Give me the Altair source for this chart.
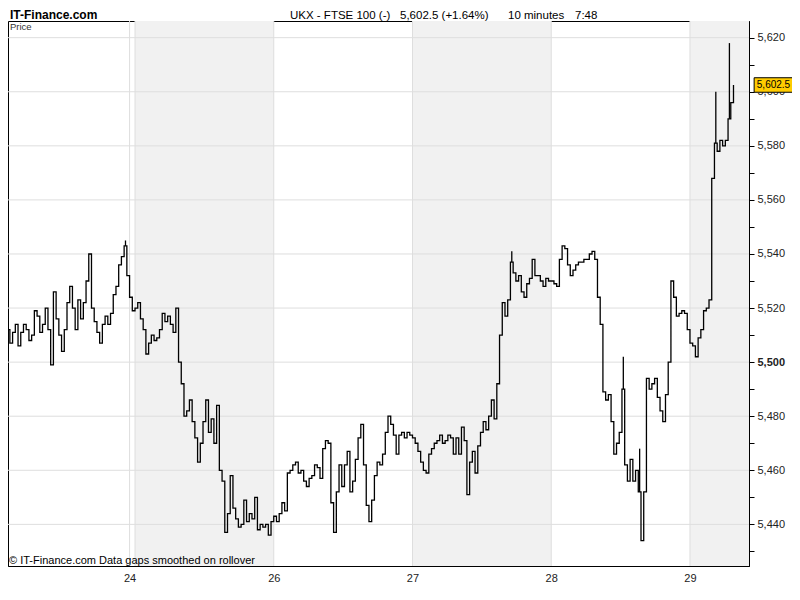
import altair as alt
import pandas as pd

# ---------------- data (10-minute closes) ----------------
day1 = [5516, 5513, 5512, 5507, 5511, 5514, 5506, 5511, 5514, 5512,
        5508, 5510, 5519, 5517, 5511, 5514, 5520, 5512, 5499, 5526,
        5516, 5510, 5504, 5512, 5522, 5528, 5520, 5512, 5523, 5516,
        5522, 5530, 5540, 5520, 5515, 5511, 5507, 5514, 5517, 5514,
        5518, 5525, 5528, 5536, 5539, 5543, 5532]
day24 = [5524, 5519]
day26 = [5520, 5522, 5516, 5512, 5503, 5507, 5510, 5508, 5509, 5512,
         5518, 5515, 5517, 5514, 5511, 5520, 5500, 5492, 5480, 5482,
         5486, 5478, 5472, 5463, 5470, 5478, 5486, 5474, 5479, 5470,
         5484, 5460, 5456, 5437, 5444, 5458, 5446, 5442, 5439, 5440,
         5449, 5441, 5444, 5442, 5450, 5438, 5440, 5439, 5440, 5436,
         5441]
day27 = [5443, 5441, 5444, 5448, 5445, 5459, 5460, 5462, 5463, 5459,
         5460, 5456, 5454, 5457, 5458, 5462, 5461, 5457, 5468, 5471,
         5470, 5448, 5437, 5452, 5462, 5454, 5462, 5467, 5452, 5456,
         5464, 5472, 5477, 5462, 5447, 5441, 5449, 5458, 5463, 5462,
         5466, 5474, 5480, 5477, 5473, 5466, 5473, 5474, 5472, 5474,
         5473]
day28 = [5472, 5470, 5467, 5463, 5460, 5459, 5466, 5468, 5470, 5471,
         5473, 5470, 5471, 5473, 5472, 5466, 5472, 5466, 5476, 5471,
         5451, 5463, 5467, 5459, 5469, 5474, 5478, 5475, 5480, 5486,
         5479, 5492, 5510, 5522, 5517, 5523, 5537, 5533, 5530, 5532,
         5526, 5524, 5529, 5531, 5538, 5532, 5532, 5530, 5528, 5531,
         5530]
day29a = [5530, 5529, 5528, 5538, 5543, 5542, 5536, 5532, 5534, 5536,
          5537, 5537, 5538, 5538, 5540, 5541, 5538, 5524, 5514, 5489,
          5486, 5488, 5478, 5466, 5470, 5474, 5490, 5462, 5456, 5464,
          5456, 5460, 5452, 5434, 5452, 5494, 5490, 5492, 5494, 5487,
          5482, 5478, 5488, 5500, 5530, 5524, 5517, 5518, 5519, 5518,
          5512]
day29b = [5507, 5506, 5502, 5509, 5512, 5519, 5520, 5523, 5568, 5581,
          5578, 5582, 5580, 5582, 5590, 5596, 5602.5]

prices = day1 + day24 + day26 + day27 + day28 + day29a + day29b

# intrabar extremes (bar index, extreme price)
spike_t = [45, 187, 228, 234, 262, 267]
spike_v = [5545, 5541, 5502, 5468, 5600, 5618]

# day structure (bar index)
band_start = [49, 151, 253]
band_end = [100, 202, 274.7]
vgrid_t = [47, 49, 100, 151, 202, 253]
tick_t = [47, 100, 151, 202, 253]
tick_lab = ["24", "26", "27", "28", "29"]

hgrid_v = [5440, 5460, 5480, 5500, 5520, 5540, 5560, 5580, 5600, 5620]
ytick_v = list(range(5430, 5621, 10))

last_price = prices[-1]
last_label = "5,602.5"
title_parts = ["UKX - FTSE 100 (-)", "5,602.5 (+1.64%)", "10 minutes", "7:48"]

# ---------------- chart ----------------
W, H = 741, 545
REG = "Liberation Sans, Arial, sans-serif"

xs = alt.Scale(domain=[2.31, 274.7], nice=False, zero=False)
ys = alt.Scale(domain=[5424.6, 5626.17], nice=False, zero=False)

xlab_expr = "".join(f"datum.value == {t} ? '{l}' : " for t, l in zip(tick_t, tick_lab)) + "''"

XAX = alt.Axis(values=tick_t, labelExpr=xlab_expr, title=None, grid=False,
               ticks=False, tickSize=0, labelPadding=6, domainColor="black",
               labelFont=REG, labelFontSize=11, labelColor="#222")
YAX = alt.Axis(orient="right", values=ytick_v, title=None, grid=False,
               labelExpr="datum.value % 20 == 0 ? format(datum.value, ',') : ''",
               tickSize=5, tickColor="black", domainColor="black", labelPadding=3,
               labelFont=REG, labelFontSize=11, labelColor="#222",
               labelFontWeight={"condition": {"test": "datum.value == 5500", "value": "bold"},
                                "value": "normal"})

df = pd.DataFrame({"t": list(range(len(prices))), "price": prices})
df_bands = pd.DataFrame({"t": band_start, "e": band_end})
df_vg = pd.DataFrame({"t": vgrid_t})
df_hg = pd.DataFrame({"price": hgrid_v})
df_sp = pd.DataFrame({"t": [t + 0.5 for t in spike_t],
                      "price": [prices[t] for t in spike_t],
                      "hi": spike_v})
df_last = pd.DataFrame({"price": [last_price], "label": [last_label]})

X = alt.X("t:Q", scale=xs, axis=XAX)
Y = alt.Y("price:Q", scale=ys, axis=YAX)

bands = alt.Chart(df_bands).mark_rect(color="#f1f1f1").encode(
    x=X, x2="e:Q", y=alt.value(0), y2=alt.value(H))

vgrid = alt.Chart(df_vg).mark_rule(color="#dedede", strokeWidth=1).encode(x=X)

hgrid = alt.Chart(df_hg).mark_rule(color="#dedede", strokeWidth=1).encode(y=Y)

line = alt.Chart(df).mark_line(color="black", strokeWidth=1.3,
                               interpolate="step-after", clip=True).encode(x=X, y=Y)

spikes = alt.Chart(df_sp).mark_rule(color="black", strokeWidth=1.3, clip=True).encode(
    x=X, y=Y, y2="hi:Q")

box = alt.Chart(df_last).mark_point(
    shape="M-1,-0.375L1,-0.375L1,0.375L-1,0.375Z", size=1500, filled=True,
    fill="#FFCC00", stroke="black", strokeWidth=1, opacity=1).encode(
    x=alt.value(765.5), y=Y)

box_text = alt.Chart(df_last).mark_text(
    font=REG, fontSize=10, color="black", align="center", baseline="middle").encode(
    x=alt.value(765.5), y=Y, text="label:N")

one = pd.DataFrame({"a": [0]})


def label(txt, x, y, size, weight="normal", color="black"):
    return alt.Chart(one).mark_text(
        text=txt, font=REG, fontSize=size, fontWeight=weight, color=color,
        align="left", baseline="alphabetic").encode(x=alt.value(x), y=alt.value(y))


texts = [
    label("IT-Finance.com", 2, -2.5, 12, "bold"),
    label(title_parts[0], 282, -2.5, 11.5),
    label(title_parts[1], 392, -2.5, 11.5),
    label(title_parts[2], 500, -2.5, 11.5),
    label(title_parts[3], 567, -2.5, 11.5),
    label("Price", 2, 8.5, 9.5, color="#333"),
    label("\u00a9 IT-Finance.com  Data gaps smoothed on rollover", 1, 543, 11),
]

chart = alt.layer(bands, vgrid, hgrid, line, spikes, box, box_text, *texts).properties(
    width=W, height=H,
    autosize=alt.AutoSizeParams(type="none"),
    padding={"left": 0, "top": 13, "right": 43, "bottom": 30},
    background="white",
).configure_view(stroke="black", strokeWidth=1)

chart.save("out.html", embed_options={"renderer": "svg", "actions": False})
